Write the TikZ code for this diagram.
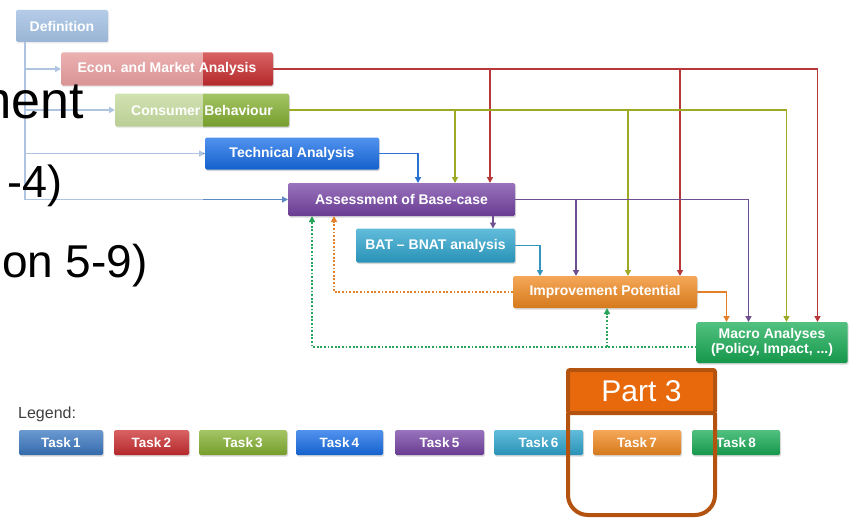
\documentclass[tikz,border=0pt]{standalone}
\usepackage{fontspec}
\setmainfont{Liberation Sans}
\usetikzlibrary{arrows.meta,shadows,calc}
\definecolor{cA}{HTML}{3A78C2}
\definecolor{cB}{HTML}{CC2E30}
\definecolor{cC}{HTML}{86B232}
\definecolor{cD}{HTML}{176EE8}
\definecolor{cE}{HTML}{7744A6}
\definecolor{cF}{HTML}{2EA6CF}
\definecolor{cG}{HTML}{F28A20}
\definecolor{cH}{HTML}{18AC55}
\definecolor{lDef}{HTML}{5D8AC4}
\definecolor{lRed}{HTML}{B8383A}
\definecolor{lOli}{HTML}{9EAA26}
\definecolor{lBlu}{HTML}{2A72D0}
\definecolor{lPur}{HTML}{6E5090}
\definecolor{lCya}{HTML}{3596BD}
\definecolor{lOra}{HTML}{E5802A}
\definecolor{lGre}{HTML}{28A55A}
\definecolor{pFill}{HTML}{E8690C}
\definecolor{pLine}{HTML}{B4520F}
\newcommand\boxfont{\bfseries\fontsize{14}{15.5}\selectfont}
\newcommand\taskfont{\bfseries\fontsize{13.5}{15}\selectfont}
\begin{document}
\begin{tikzpicture}[x=1pt,y=-1pt,
  tbox/.style={rectangle, rounded corners=1.5pt, top color=#1!75!white, middle color=#1, bottom color=#1!88!black,
    text=white, font=\boxfont, inner sep=0pt, outer sep=0pt, align=center,
    drop shadow={opacity=0.3,shadow xshift=1pt,shadow yshift=-1.5pt}},
  lbox/.style={tbox=#1, font=\taskfont, minimum height=25pt},
  conn/.style={line width=1.8pt, -{Triangle[length=6pt,width=6pt]}},
  dotl/.style={line width=1.9pt, dash pattern=on 1.8pt off 1.8pt, -{Triangle[length=6pt,width=6pt]}},
  bigtxt/.style={anchor=base east, inner sep=0pt, text=black}
]
\fill[white] (0,0) rectangle (851,519);
\useasboundingbox (0,0) rectangle (851,519);

% boxes
\node[tbox=cA, minimum width=92pt, minimum height=32pt] (def) at (62,26) {Definition};
\node[tbox=cB, minimum width=212pt, minimum height=33pt] (econ) at (167,69) {Econ. and Market Analysis};
\node[tbox=cC, minimum width=174pt, minimum height=33pt] (cons) at (202,110) {Consumer Behaviour};
\node[tbox=cD, minimum width=174pt, minimum height=32pt] (tech) at (292,153.5) {Technical Analysis};
\node[tbox=cE, minimum width=227pt, minimum height=33pt] (ass) at (401.5,199.5) {Assessment of Base-case};
\node[tbox=cF, minimum width=159pt, minimum height=34pt] (bat) at (435.5,245.5) {BAT \textendash{} BNAT analysis};
\node[tbox=cG, minimum width=184pt, minimum height=32pt] (imp) at (605,292) {Improvement Potential};
\node[tbox=cH, minimum width=151pt, minimum height=41pt] (macro) at (772,342.5) {Macro Analyses\\(Policy, Impact, ...)};

% target coordinates
\coordinate (d0) at ([xshift=9pt]def.south west);
\coordinate (aB) at ([xshift=16.5pt]ass.north);
\coordinate (aO) at ([xshift=53.5pt]ass.north);
\coordinate (aR) at ([xshift=88.5pt]ass.north);
\coordinate (aG) at ([xshift=-89.5pt]ass.south);
\coordinate (aOr) at ([xshift=-67.5pt]ass.south);
\coordinate (aP) at ([xshift=91.5pt]ass.south);
\coordinate (iC) at ([xshift=-65pt]imp.north);
\coordinate (iP) at ([xshift=-29pt]imp.north);
\coordinate (iO) at ([xshift=23pt]imp.north);
\coordinate (iR) at ([xshift=75pt]imp.north);
\coordinate (iG) at ([xshift=2pt]imp.south);
\coordinate (mOr) at ([xshift=-45.5pt]macro.north);
\coordinate (mP) at ([xshift=-23.5pt]macro.north);
\coordinate (mO) at ([xshift=14.5pt]macro.north);
\coordinate (mR) at ([xshift=45.5pt]macro.north);
\coordinate (mW) at ([yshift=-4.5pt]macro.west);

% definition connectors
\draw[conn, lDef] (d0) |- (econ.west);
\draw[conn, lDef] (d0) |- (cons.west);
\draw[conn, lDef] (d0) |- (tech.west);
\draw[conn, lDef] (d0) |- (ass.west);

% red
\draw[conn, lRed] (econ.east) -| (mR);
\draw[conn, lRed] (econ.east -| aR) -- (aR);
\draw[conn, lRed] (econ.east -| iR) -- (iR);
% olive
\draw[conn, lOli] (cons.east) -| (mO);
\draw[conn, lOli] (cons.east -| aO) -- (aO);
\draw[conn, lOli] (cons.east -| iO) -- (iO);
% blue
\draw[conn, lBlu] (tech.east) -| (aB);
% purple
\draw[conn, lPur] (ass.east) -| (mP);
\draw[conn, lPur] (ass.east -| iP) -- (iP);
\draw[conn, lPur] (aP) -- (bat.north -| aP);
% cyan
\draw[conn, lCya] (bat.east) -| (iC);
% orange
\draw[conn, lOra] (imp.east) -| (mOr);
\draw[dotl, lOra] (imp.west) -| (aOr);
% green dotted
\draw[dotl, lGre] (mW) -| (aG);
\draw[dotl, lGre] (mW -| iG) -- (iG);

% fade overlay on the left part
\fill[white, opacity=0.5] (0,0) rectangle (203,225);

% big slide text
\node[bigtxt, font=\fontsize{52}{60}\selectfont] (bt1) at (84,118) {ment};
\node[bigtxt, font=\fontsize{45}{52}\selectfont] (bt2) at (63,197) {-4)};
\node[bigtxt, font=\fontsize{46}{54}\selectfont] (bt3) at (148,277) {on 5-9)};

% legend
\node[anchor=base west, inner sep=0pt, font=\fontsize{16}{18}\selectfont, text=black!75] (leg) at (18,418) {Legend:};
\node[lbox=cA, minimum width=84pt] (t1) at (61,442.5) {Task\,1};
\node[lbox=cB, minimum width=75pt] (t2) at (151.5,442.5) {Task\,2};
\node[lbox=cC, minimum width=88pt] (t3) at (243,442.5) {Task\,3};
\node[lbox=cD, minimum width=87pt] (t4) at (339.5,442.5) {Task\,4};
\node[lbox=cE, minimum width=89pt] (t5) at (439.5,442.5) {Task\,5};
\node[lbox=cF, minimum width=89pt] (t6) at (538.5,442.5) {Task\,6};
\node[lbox=cG, minimum width=88pt] (t7) at (637,442.5) {Task\,7};
\node[lbox=cH, minimum width=88pt] (t8) at (736,442.5) {Task\,8};

% Part 3 frame
\node[rectangle, draw=pLine, line width=4pt, fill=pFill, rounded corners=2pt, minimum width=147pt, minimum height=43pt,
  inner sep=0pt, outer sep=0pt, text=white, font=\fontsize{30}{32}\selectfont] (part3) at (641.5,391.5) {Part 3};
\coordinate (p3b) at (641.5,515);
\draw[pLine, line width=4pt, rounded corners=20pt] (part3.south west) -- (part3.south west |- p3b) -- (part3.south east |- p3b) -- (part3.south east);
\end{tikzpicture}
\end{document}
